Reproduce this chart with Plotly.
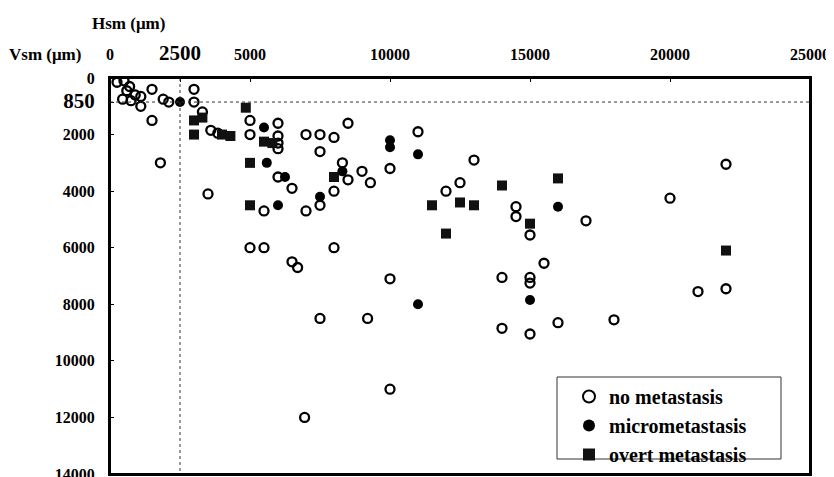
import plotly.graph_objects as go

# Hsm (x, um) and Vsm (y, um) per group
no_x = [250, 500, 700, 600, 900, 1100, 450, 750, 1100, 1500, 1900, 2100, 1500, 3000, 3000,
        1800, 3500, 3300, 3600, 3850,
        5000, 5000, 5000, 5500, 5500,
        6000, 6000, 6000, 6000, 6000, 6500, 6500, 6700,
        7000, 7500, 8000, 8500, 7500, 8300, 8500, 9000, 9300,
        8000, 7500, 7000, 8000, 7500, 9200, 10000, 6950,
        10000, 10000, 11000,
        13000, 12500, 12000, 14500, 14500, 15000, 17000, 20000, 22000,
        15500, 14000, 15000, 15000, 21000, 22000, 18000, 16000, 14000, 15000]
no_y = [150, 100, 300, 450, 600, 650, 750, 800, 1000, 400, 750, 850, 1500, 400, 850,
        3000, 4100, 1200, 1850, 1950,
        1500, 2000, 6000, 4700, 6000,
        1600, 2050, 2300, 2500, 3500, 3900, 6500, 6700,
        2000, 2000, 2100, 1600, 2600, 3000, 3600, 3300, 3700,
        4000, 4500, 4700, 6000, 8500, 8500, 11000, 12000,
        3200, 7100, 1900,
        2900, 3700, 4000, 4550, 4900, 5550, 5050, 4250, 3050,
        6550, 7050, 7050, 7250, 7550, 7450, 8550, 8650, 8850, 9050]

micro_x = [2500, 5500, 5600, 6250, 6000, 8300, 7500, 10000, 10000, 11000, 11000, 16000, 15000]
micro_y = [850, 1750, 3000, 3500, 4500, 3300, 4200, 2200, 2450, 2700, 8000, 4550, 7850]

overt_x = [3000, 3300, 3000, 4000, 4300, 4850, 5000, 5000, 5500, 5800, 8000,
           11500, 12500, 13000, 12000, 14000, 15000, 16000, 22000]
overt_y = [1500, 1400, 2000, 2000, 2050, 1050, 3000, 4500, 2250, 2300, 3500,
           4500, 4400, 4500, 5500, 3800, 5150, 3550, 6100]

x_ticks = [0, 2500, 5000, 10000, 15000, 20000, 25000]
x_ticktext = ["0", "<span style='font-size:21px'>2500</span>", "5000", "10000", "15000", "20000", "25000"]
y_ticks = [0, 850, 2000, 4000, 6000, 8000, 10000, 12000, 14000]
y_ticktext = ["0", "<span style='font-size:21px'>850</span>", "2000", "4000", "6000", "8000",
              "10000", "12000", "14000"]

FONT = "Liberation Serif"
OFF = 8  # page body margin offset compensation

fig = go.Figure()
fig.add_trace(go.Scatter(x=no_x, y=no_y, mode="markers", name="no metastasis",
                         marker=dict(symbol="circle-open", size=9, color="black",
                                     line=dict(width=2.3, color="black"))))
fig.add_trace(go.Scatter(x=micro_x, y=micro_y, mode="markers", name="micrometastasis",
                         marker=dict(symbol="circle", size=10, color="black",
                                     line=dict(width=0))))
fig.add_trace(go.Scatter(x=overt_x, y=overt_y, mode="markers", name="overt metastasis",
                         marker=dict(symbol="square", size=10, color="#111111",
                                     line=dict(width=0))))

# reference lines
fig.add_shape(type="line", xref="x", yref="y", x0=2500, x1=2500, y0=0, y1=14000,
              line=dict(color="#333333", width=1, dash="dot"))
fig.add_shape(type="line", xref="x", yref="y", x0=0, x1=25000, y0=850, y1=850,
              line=dict(color="#333333", width=1, dash="dot"))

# plot frame
fig.add_shape(type="rect", xref="paper", yref="paper", x0=0, x1=1, y0=0, y1=1,
              line=dict(color="black", width=2), fillcolor="rgba(0,0,0,0)")

# legend box
fig.add_shape(type="rect", xref="paper", yref="paper",
              x0=(557 - 110) / 700, x1=(781 - 110) / 700,
              y0=1 - (459 - 78) / 396, y1=1 - (377 - 78) / 396,
              line=dict(color="#333333", width=1), fillcolor="white", layer="below")

fig.add_annotation(text="<b>Hsm (μm)</b>", xref="paper", yref="paper",
                   x=(128 - 110) / 700, y=1 + (78 - 23) / 396, showarrow=False,
                   xanchor="center", yanchor="middle",
                   font=dict(family=FONT, size=17, color="black"))
fig.add_annotation(text="<b>Vsm (μm)</b>", xref="paper", yref="paper",
                   x=(45 - 110) / 700, y=1 + (78 - 55) / 396, showarrow=False,
                   xanchor="center", yanchor="middle",
                   font=dict(family=FONT, size=17, color="black"))

fig.update_layout(
    width=834 - OFF, height=477 - OFF,
    margin=dict(l=110 - OFF, r=24, t=78 - OFF, b=3, autoexpand=False),
    paper_bgcolor="white", plot_bgcolor="white",
    font=dict(family=FONT, size=16, color="black"),
    showlegend=True,
    legend=dict(x=(557 - 110) / 700, y=1 - (377 - 78) / 396, xanchor="left", yanchor="top",
                bgcolor="rgba(0,0,0,0)", borderwidth=0,
                font=dict(family=FONT, size=20, color="black", weight="bold"),
                indentation=12, tracegroupgap=0, itemsizing="constant"),
    xaxis=dict(side="top", range=[0, 25000], tickvals=x_ticks, ticktext=x_ticktext,
               showgrid=False, zeroline=False, showline=True, linecolor="black", linewidth=2,
               mirror=True, ticks="inside", ticklen=4, tickcolor="black", automargin=False,
               tickfont=dict(family=FONT, size=16, color="black", weight="bold"),
               ticklabelstandoff=10, ticklabeloverflow="allow"),
    yaxis=dict(range=[14000, 0], tickvals=y_ticks, ticktext=y_ticktext,
               showgrid=False, zeroline=False, showline=True, linecolor="black", linewidth=2,
               mirror=True, ticks="inside", ticklen=4, tickcolor="black", automargin=False,
               tickfont=dict(family=FONT, size=16, color="black", weight="bold"),
               ticklabelstandoff=10, ticklabeloverflow="allow"),
)

fig.write_html("out.html")
